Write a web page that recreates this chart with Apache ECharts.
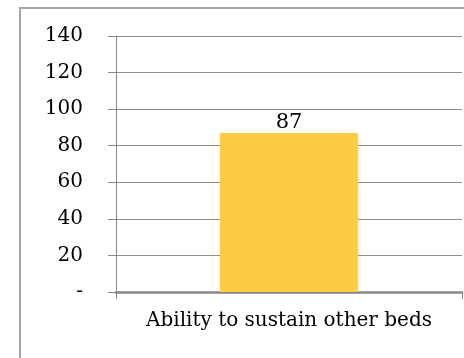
<!DOCTYPE html>
<html>
<head>
<meta charset="utf-8">
<script src="https://cdn.jsdelivr.net/npm/echarts@6/dist/echarts.min.js"></script>
<style>html,body{margin:0;padding:0;background:#fff}#c{width:464px;height:358px}</style>
</head>
<body>
<div id="c"></div>
<script>
const categories = ['Ability to sustain other beds'];
const values = [87];
const yMin = 0, yMax = 140, yStep = 20;

const chart = echarts.init(document.getElementById('c'), null, {renderer: 'canvas'});
const font = 'DejaVu Serif';
chart.setOption({
  animation: false,
  backgroundColor: '#fff',
  graphic: [{
    type: 'rect', shape: {x: 20, y: 8, width: 600, height: 500},
    style: {fill: 'none', stroke: '#a6a6a6', lineWidth: 2}, silent: true
  }],
  grid: {left: 116, right: 2, top: 36, bottom: 66, containLabel: false},
  xAxis: {
    type: 'category', data: categories,
    axisLine: {lineStyle: {color: '#868686', width: 2.5}},
    axisTick: {show: true, length: 7, lineStyle: {color: '#868686', width: 1}},
    axisLabel: {fontFamily: font, fontSize: 20, color: '#000', margin: 19}
  },
  yAxis: {
    type: 'value', min: yMin, max: yMax, interval: yStep,
    axisLine: {show: true, lineStyle: {color: '#868686', width: 1}},
    axisTick: {show: true, length: 8, lineStyle: {color: '#868686', width: 1}},
    splitLine: {lineStyle: {color: '#8c8c8c', width: 1}},
    axisLabel: {
      fontFamily: font, fontSize: 20, color: '#000', margin: 33,
      formatter: v => v === 0 ? '-' : String(v)
    }
  },
  series: [{
    type: 'bar', data: values, barWidth: '40%',
    itemStyle: {color: '#FECB45'},
    label: {show: true, position: 'top', distance: 0, fontFamily: font, fontSize: 21, color: '#000'}
  }]
});
</script>
</body>
</html>
